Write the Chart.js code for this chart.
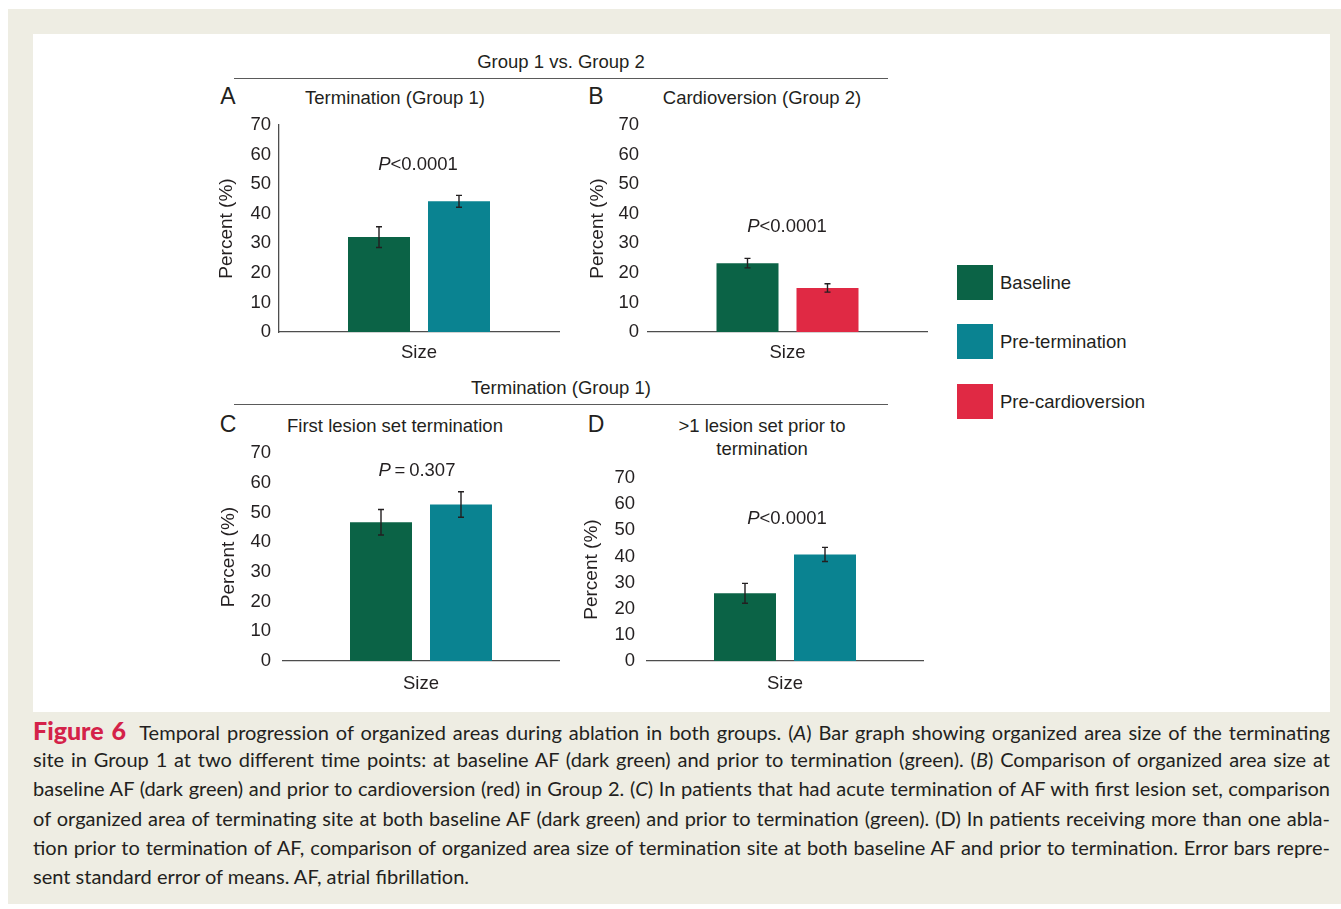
<!DOCTYPE html>
<html>
<head>
<meta charset="utf-8">
<script src="https://cdn.jsdelivr.net/npm/chart.js@4.4.1/dist/chart.umd.min.js"></script>
<style>
  body { margin: 0; width: 1341px; height: 909px; position: relative; overflow: hidden; background: #fff;
         font-family: 'Liberation Sans', Arial, sans-serif; color: #231f20; }
  #frame { position: absolute; left: 8px; top: 9px; width: 1333px; height: 895px; background: #eeede3; }
  #sheet { position: absolute; left: 33px; top: 34px; width: 1297px; height: 678px; background: #fff; }
  canvas { position: absolute; }
  .txt { position: absolute; white-space: nowrap; transform: translate(-50%, -50%); line-height: 1; font-size: 18.5px; }
  .letter { font-size: 23px; }
  .rule { position: absolute; height: 0; border-top: 1.4px solid #5a5a5a; }
  .key { position: absolute; width: 36px; height: 35px; }
  .keytxt { position: absolute; font-size: 18.5px; line-height: 1; transform: translateY(-50%); white-space: nowrap; }
  #caption { position: absolute; left: 33px; top: 716px; width: 1297px; font-family: Lato, 'Open Sans', sans-serif;
             font-size: 19px; color: #231f20; }
  #caption div { height: 29.2px; line-height: 29.2px; text-align: justify; text-align-last: justify; }
  #caption div.last { text-align-last: left; }
  #caption .fig { color: #d42249; font-weight: 900; font-size: 1.25em; }
</style>
</head>
<body>
<div id="frame"></div>
<div id="sheet"></div>

<!-- group headers -->
<div class="txt" style="left:561px; top:62px;">Group 1 vs. Group 2</div>
<div class="rule" style="left:234px; top:78px; width:654px;"></div>
<div class="txt" style="left:561px; top:388px;">Termination (Group 1)</div>
<div class="rule" style="left:234px; top:404px; width:654px;"></div>

<!-- panel letters and titles -->
<div class="txt letter" style="left:228px; top:96px;">A</div>
<div class="txt" style="left:395px; top:98px;">Termination (Group 1)</div>
<div class="txt letter" style="left:596px; top:96px;">B</div>
<div class="txt" style="left:762px; top:98px;">Cardioversion (Group 2)</div>
<div class="txt letter" style="left:228px; top:424px;">C</div>
<div class="txt" style="left:395px; top:426px;">First lesion set termination</div>
<div class="txt letter" style="left:596px; top:424px;">D</div>
<div class="txt" style="left:762px; top:426px;">&gt;1 lesion set prior to</div>
<div class="txt" style="left:762px; top:449px;">termination</div>

<canvas id="chartA" width="370" height="265" style="left:200px; top:105px;"></canvas>
<canvas id="chartB" width="370" height="265" style="left:570px; top:105px;"></canvas>
<canvas id="chartC" width="370" height="270" style="left:200px; top:430px;"></canvas>
<canvas id="chartD" width="370" height="245" style="left:570px; top:455px;"></canvas>

<!-- significance labels -->
<div class="txt" id="pA" style="left:418px; top:164px;"></div>
<div class="txt" id="pB" style="left:787px; top:226px;"></div>
<div class="txt" id="pC" style="left:417px; top:470px;"></div>
<div class="txt" id="pD" style="left:787px; top:518px;"></div>

<div id="legend"></div>

<div id="caption">
  <div><span class="fig">Figure 6</span>&nbsp; Temporal progression of organized areas during ablation in both groups. (<i>A</i>) Bar graph showing organized area size of the terminating</div>
  <div>site in Group 1 at two different time points: at baseline AF (dark green) and prior to termination (green). (<i>B</i>) Comparison of organized area size at</div>
  <div>baseline AF (dark green) and prior to cardioversion (red) in Group 2. (<i>C</i>) In patients that had acute termination of AF with first lesion set, comparison</div>
  <div>of organized area of terminating site at both baseline AF (dark green) and prior to termination (green). (D) In patients receiving more than one abla-</div>
  <div>tion prior to termination of AF, comparison of organized area size of termination site at both baseline AF and prior to termination. Error bars repre-</div>
  <div class="last">sent standard error of means. AF, atrial fibrillation.</div>
</div>

<script>
// categories and series
const categories = ['Size'];
const seriesNames = ['Baseline', 'Pre-termination', 'Pre-cardioversion'];
const seriesColors = ['#0b6346', '#0a8391', '#e02944'];
const yTickMax = 70;
const yTickStep = 10;

// mean organized area size (%) and standard error, [baseline, second time point]
const termGroup1 = [32.1, 44.2];
const termGroup1Sem = [3.5, 2.0];
const cardioGroup2 = [23.3, 14.9];
const cardioGroup2Sem = [1.6, 1.4];
const firstLesion = [46.7, 52.7];
const firstLesionSem = [4.3, 4.3];
const multiLesion = [25.9, 40.8];
const multiLesionSem = [3.8, 2.7];

const pLabels = ['<0.0001', '<0.0001', '=0.307', '<0.0001'];

Chart.defaults.font.family = "'Liberation Sans', Arial, sans-serif";
Chart.defaults.font.size = 18.5;
Chart.defaults.color = '#231f20';

// whiskers for the standard error, drawn on top of the bars
const errorBars = {
  id: 'errorBars',
  afterDatasetsDraw(chart) {
    const ctx = chart.ctx;
    const y = chart.scales.y;
    chart.data.datasets.forEach((ds, i) => {
      chart.getDatasetMeta(i).data.forEach((bar, j) => {
        const hi = y.getPixelForValue(ds.data[j] + ds.sem[j]);
        const lo = y.getPixelForValue(ds.data[j] - ds.sem[j]);
        ctx.save();
        ctx.strokeStyle = '#231f20';
        ctx.lineWidth = 1.4;
        ctx.beginPath();
        ctx.moveTo(bar.x, hi); ctx.lineTo(bar.x, lo);
        ctx.moveTo(bar.x - 3, hi); ctx.lineTo(bar.x + 3, hi);
        ctx.moveTo(bar.x - 3, lo); ctx.lineTo(bar.x + 3, lo);
        ctx.stroke();
        ctx.restore();
      });
    });
  }
};

function makePanel(id, values, sem, second, box) {
  const areaWidth = box.width - box.yWidth - box.right;
  return new Chart(document.getElementById(id), {
    type: 'bar',
    data: {
      labels: categories,
      datasets: [
        { label: seriesNames[0], data: [values[0]], sem: [sem[0]], backgroundColor: seriesColors[0] },
        { label: seriesNames[second], data: [values[1]], sem: [sem[1]], backgroundColor: seriesColors[second] }
      ]
    },
    options: {
      responsive: false,
      animation: false,
      categoryPercentage: 160 / areaWidth,
      barPercentage: 0.775,
      layout: { padding: { top: box.top, right: box.right, left: 0, bottom: 0 } },
      plugins: { legend: { display: false }, tooltip: { enabled: false } },
      scales: {
        x: {
          grid: { display: false, drawTicks: false },
          border: { display: true, color: '#4d4d4d', width: 1.3 },
          ticks: { padding: box.sizePad },
          afterFit: s => { s.height = box.xHeight; }
        },
        y: {
          min: 0,
          max: yTickMax,
          ticks: { stepSize: yTickStep, padding: box.tickPad },
          grid: { display: false, drawTicks: false },
          border: { display: box.yLine, color: '#4d4d4d', width: 1.3 },
          title: { display: true, text: 'Percent (%)', font: { size: 19 }, padding: { top: box.titlePad, bottom: 0 } },
          afterFit: s => { s.width = box.yWidth; }
        }
      }
    },
    plugins: [errorBars]
  });
}

makePanel('chartA', termGroup1, termGroup1Sem, 1,
  { width: 370, top: 20, right: 11, yWidth: 79, xHeight: 38, tickPad: 8, sizePad: 10, titlePad: 15, yLine: true });
makePanel('chartB', cardioGroup2, cardioGroup2Sem, 2,
  { width: 370, top: 20, right: 13, yWidth: 78, xHeight: 38, tickPad: 9, sizePad: 10, titlePad: 16, yLine: false });
makePanel('chartC', firstLesion, firstLesionSem, 1,
  { width: 370, top: 21.5, right: 11, yWidth: 83, xHeight: 39, tickPad: 12, sizePad: 12, titlePad: 17, yLine: false });
makePanel('chartD', multiLesion, multiLesionSem, 1,
  { width: 370, top: 22, right: 17, yWidth: 77, xHeight: 39, tickPad: 12, sizePad: 12, titlePad: 10, yLine: false });

['pA', 'pB', 'pC', 'pD'].forEach((id, i) => {
  const el = document.getElementById(id);
  const s = pLabels[i];
  el.innerHTML = '<i>P</i>' + (s[0] === '=' ? '&thinsp;=&thinsp;' + s.slice(1) : s.replace('<', '&lt;'));
});

// shared legend for the three series
const legend = document.getElementById('legend');
seriesNames.forEach((name, i) => {
  const top = [265, 324, 384][i];
  legend.insertAdjacentHTML('beforeend',
    `<div class="key" style="left:957px; top:${top}px; background:${seriesColors[i]}"></div>` +
    `<div class="keytxt" style="left:1000px; top:${top + 18}px">${name}</div>`);
});

// size the caption so its widest justified line just fills the column
const caption = document.getElementById('caption');
const lines = Array.from(caption.querySelectorAll('div')).slice(0, 5);
let widest = 0;
lines.forEach(d => {
  const probe = document.createElement('span');
  probe.style.whiteSpace = 'nowrap';
  probe.innerHTML = d.innerHTML;
  caption.appendChild(probe);
  widest = Math.max(widest, probe.getBoundingClientRect().width);
  probe.remove();
});
caption.style.fontSize = (19 * 1285 / widest).toFixed(2) + 'px';
</script>
</body>
</html>
